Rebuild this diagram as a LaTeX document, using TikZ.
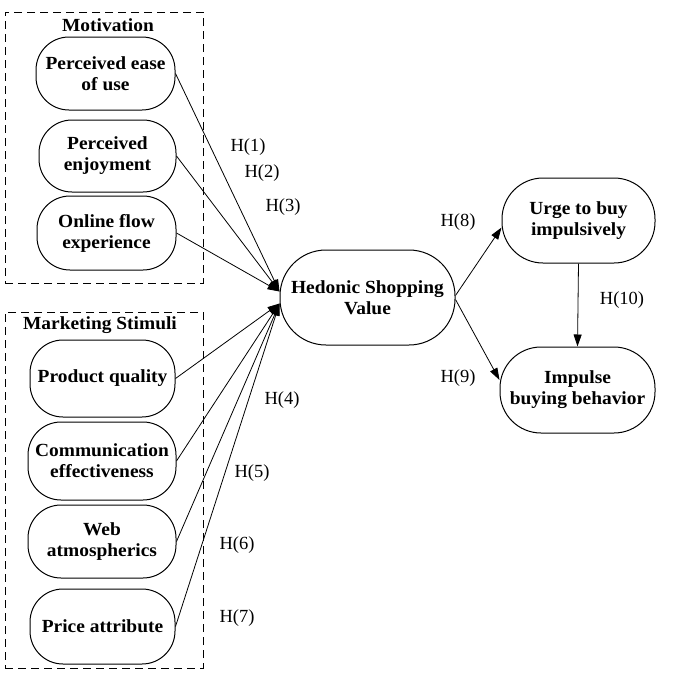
\documentclass[tikz,border=0pt]{standalone}
\usepackage{fontspec}
\setmainfont{Liberation Serif}[BoldFeatures={FakeStretch=1.05}]
\usetikzlibrary{arrows.meta}
\begin{document}
\begin{tikzpicture}[x=1pt,y=-1pt,
  lbl/.style={font=\fontsize{18.5}{21}\selectfont, inner sep=0pt},
  ttl/.style={font=\bfseries\fontsize{18.5}{21}\selectfont, inner sep=0pt},
  stad/.style={draw, line width=1pt, rounded corners=#1, align=center, inner sep=0pt,
    font=\bfseries\fontsize{18.5}{21}\selectfont},
  stad/.default=33pt,
  grp/.style={draw, line width=0.9pt, dash pattern=on 8pt off 5pt, inner sep=0pt},
  arr/.style={line width=0.8pt, -{Triangle[length=12pt,width=8pt]}}
]
\useasboundingbox (0,0) rectangle (676,678);

% group boxes
\node[grp, minimum width=198pt, minimum height=271pt] (gmot) at (104,147.5) {};
\node[grp, minimum width=198pt, minimum height=356pt] (gmkt) at (104,490) {};
\node[ttl] (tmot) at (108,25) {Motivation};
\node[ttl] (tmkt) at (100,325) {Marketing Stimuli};

% left nodes
\node[stad, minimum width=139pt, minimum height=73pt] (pe) at (105.5,73.5) {Perceived ease\\of use};
\node[stad, minimum width=137pt, minimum height=72pt] (pj) at (107.5,156) {Perceived\\enjoyment};
\node[stad, minimum width=139pt, minimum height=74pt] (of) at (106.5,233) {Online flow\\experience};
\node[stad, minimum width=145pt, minimum height=77pt] (pq) at (102.5,378.5) {Product quality};
\node[stad, minimum width=148pt, minimum height=78pt] (ce) at (102,461) {Communication\\effectiveness};
\node[stad, minimum width=148pt, minimum height=73pt] (wa) at (102,541.5) {Web\\atmospherics};
\node[stad, minimum width=145pt, minimum height=75pt] (pa) at (102.5,626.5) {Price attribute};

% right nodes
\node[stad=46pt, minimum width=175pt, minimum height=95pt] (hsv) at (367.5,297.5) {Hedonic Shopping\\Value};
\node[stad=41pt, minimum width=153pt, minimum height=85pt] (urge) at (578.5,220.5) {Urge to buy\\impulsively};
\node[stad=41pt, minimum width=155pt, minimum height=86pt] (imp) at (577.5,390) {Impulse\\buying behavior};

% connectors
\draw[arr] (pe.east) -- ([yshift=6pt]hsv.west);
\draw[arr] (pj.east) -- ([yshift=6pt]hsv.west);
\draw[arr] (of.east) -- ([yshift=6pt]hsv.west);
\draw[arr] (pq.east) -- ([yshift=-6pt]hsv.west);
\draw[arr] (ce.east) -- ([yshift=-6pt]hsv.west);
\draw[arr] (wa.east) -- ([yshift=-6pt]hsv.west);
\draw[arr] (pa.east) -- ([yshift=-6pt]hsv.west);
\draw[arr] ([yshift=2pt]hsv.east) -- ([yshift=-7pt]urge.west);
\draw[arr] ([yshift=-2pt]hsv.east) -- ([yshift=10pt]imp.west);
\draw[arr] (urge.south) -- (imp.north);

% labels
\node[lbl] (h1) at (248,147) {H(1)};
\node[lbl] (h2) at (262,173) {H(2)};
\node[lbl] (h3) at (283,207) {H(3)};
\node[lbl] (h4) at (282,400) {H(4)};
\node[lbl] (h5) at (252,473) {H(5)};
\node[lbl] (h6) at (237,545) {H(6)};
\node[lbl] (h7) at (237,618) {H(7)};
\node[lbl] (h8) at (458,222) {H(8)};
\node[lbl] (h9) at (458,378) {H(9)};
\node[lbl] (h10) at (622,300) {H(10)};
\end{tikzpicture}
\end{document}
